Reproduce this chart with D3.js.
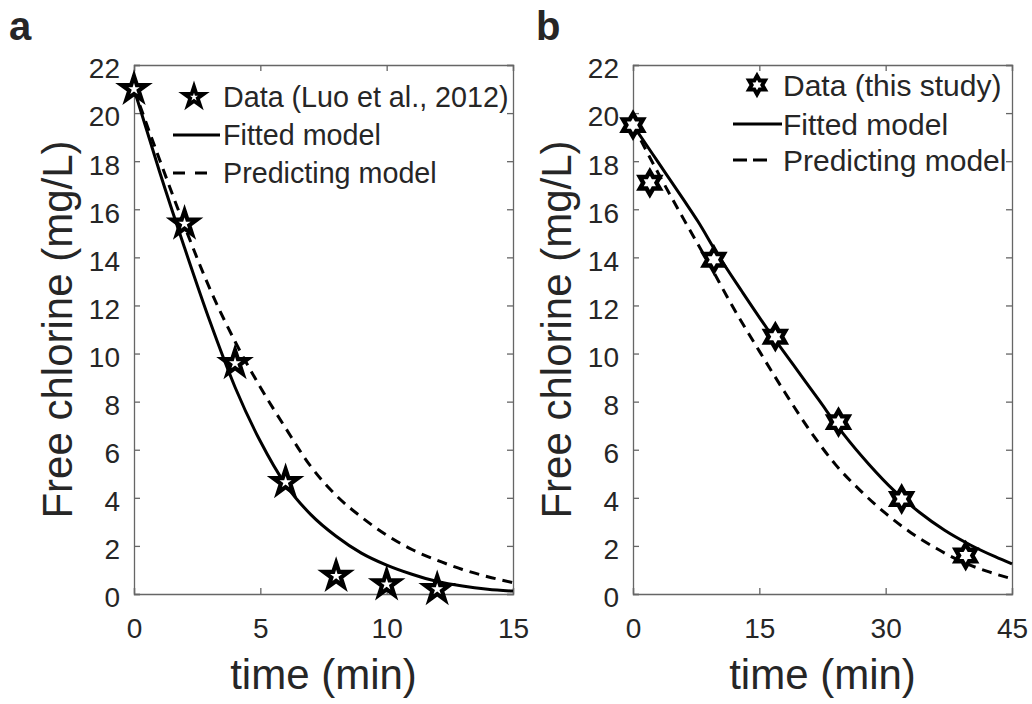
<!DOCTYPE html>
<html lang="en">
<head>
<meta charset="utf-8">
<script src="https://cdnjs.cloudflare.com/ajax/libs/d3/7.8.5/d3.min.js"></script>
<style>
    body { margin: 0; background: #fff; }
    svg text { font-family: 'Liberation Sans', Arial, sans-serif; fill: #262626; }
</style>
</head>
<body>
<svg id="chart" width="1032" height="704"></svg>
<script>
    // panel a: Luo et al. 2012
    const timeA = [0, 2, 4, 6, 8, 10, 12]
    const chlorineA = [21.0, 15.4, 9.6, 4.65, 0.75, 0.4, 0.2]
    const curveTimeA = [0, 1, 2, 3, 4, 5, 6, 7, 8, 9, 10, 11, 12, 13, 14, 15]
    const fittedA = [21.0, 17.6, 14.4, 11.35, 8.6, 6.35, 4.55, 3.3, 2.4, 1.7, 1.2, 0.82, 0.52, 0.33, 0.2, 0.12]
    const predictedA = [21.0, 18.1, 15.3, 12.7, 10.5, 8.6, 6.9, 5.3, 4.1, 3.2, 2.45, 1.85, 1.4, 1.02, 0.72, 0.47]

    // panel b: this study
    const timeB = [0, 2, 9.6, 16.9, 24.4, 31.9, 39.5]
    const chlorineB = [19.5, 17.1, 13.9, 10.7, 7.15, 3.95, 1.6]
    const fitTimeB = [0, 3, 6, 7.7, 10, 13, 16, 19, 22, 25, 28, 31, 34, 37, 40, 43, 45]
    const fittedB = [19.5, 17.95, 16.4, 15.5, 14.15, 12.55, 11.0, 9.55, 8.1, 6.65, 5.4, 4.3, 3.4, 2.65, 2.05, 1.55, 1.25]
    const predTimeB = [0, 3, 6, 9, 12, 15, 18, 21, 24, 27, 30, 33, 36, 39, 42, 45]
    const predictedB = [19.5, 17.5, 15.6, 13.75, 11.85, 10.1, 8.4, 6.8, 5.4, 4.3, 3.35, 2.55, 1.9, 1.35, 0.95, 0.63]

    const yTicks = [0, 2, 4, 6, 8, 10, 12, 14, 16, 18, 20, 22]
    const xTicksA = [0, 5, 10, 15]
    const xTicksB = [0, 15, 30, 45]

    const plotTop = 65, plotBottom = 594

    // MATLAB-like marker shapes, size = outer radius
    const pentagram = {
        draw(ctx, r) {
            const ri = r * 0.382
            for (let i = 0; i < 10; i++) {
                const a = -Math.PI / 2 + i * Math.PI / 5
                const rr = i % 2 ? ri : r
                i ? ctx.lineTo(rr * Math.cos(a), rr * Math.sin(a)) : ctx.moveTo(rr * Math.cos(a), rr * Math.sin(a))
            }
            ctx.closePath()
        }
    }
    const hexagram = {
        draw(ctx, r) {
            const ri = r / Math.sqrt(3)
            for (let i = 0; i < 12; i++) {
                const a = -Math.PI / 2 + i * Math.PI / 6
                const rr = i % 2 ? ri : r
                i ? ctx.lineTo(rr * Math.cos(a), rr * Math.sin(a)) : ctx.moveTo(rr * Math.cos(a), rr * Math.sin(a))
            }
            ctx.closePath()
        }
    }

    const svg = d3.select('#chart')

    function drawPanel(o) {
        const x = d3.scaleLinear().domain(o.xDomain).range([o.left, o.right])
        const y = d3.scaleLinear().domain([0, 22]).range([plotBottom, plotTop])
        const g = svg.append('g')

        // box with inward ticks on all sides
        const axes = [
            [d3.axisBottom(x).tickValues(o.xTicks).tickSize(-6).tickPadding(24), 'translate(0,' + plotBottom + ')'],
            [d3.axisTop(x).tickValues(o.xTicks).tickSize(-6).tickFormat(''), 'translate(0,' + plotTop + ')'],
            [d3.axisLeft(y).tickValues(yTicks).tickSize(-6).tickPadding(14), 'translate(' + o.left + ',0)'],
            [d3.axisRight(y).tickValues(yTicks).tickSize(-6).tickFormat(''), 'translate(' + o.right + ',0)']
        ]
        axes.forEach(([ax, tr], i) => {
            const a = g.append('g').attr('transform', tr).call(ax)
            a.select('.domain').attr('stroke', '#666').attr('stroke-width', 1.3)
            a.selectAll('.tick line').attr('stroke', '#666').attr('stroke-width', 1.3)
            a.selectAll('.tick text').attr('font-size', 28).attr('fill', '#262626')
            if (i == 2) a.selectAll('.tick text').attr('dy', '0.46em')
        })

        const line = d3.line().x(d => x(d[0])).y(d => y(d[1])).curve(d3.curveMonotoneX)
        g.append('path')
            .datum(d3.zip(o.fitT, o.fit))
            .attr('d', line)
            .attr('fill', 'none').attr('stroke', '#000').attr('stroke-width', 3)
        g.append('path')
            .datum(d3.zip(o.predT, o.pred))
            .attr('d', line)
            .attr('fill', 'none').attr('stroke', '#000').attr('stroke-width', 3)
            .attr('stroke-dasharray', '10,7')

        const sym = d3.symbol().type(o.marker).size(o.markerR)
        g.selectAll('.pt')
            .data(d3.zip(o.t, o.c))
            .enter()
            .append('path')
            .attr('transform', d => 'translate(' + x(d[0]) + ',' + y(d[1]) + ')')
            .attr('d', sym)
            .attr('fill', '#fff').attr('stroke', '#000')
            .attr('stroke-width', o.markerW).attr('stroke-linejoin', 'miter')

        // legend
        const lg = g.append('g')
        lg.append('path')
            .attr('transform', 'translate(' + o.lgMarkerX + ',' + o.lgRows[0] + ')')
            .attr('d', d3.symbol().type(o.marker).size(o.markerR * 0.8))
            .attr('fill', '#fff').attr('stroke', '#000').attr('stroke-width', o.markerW * 0.9)
        lg.append('line')
            .attr('x1', o.lgLine[0]).attr('x2', o.lgLine[1])
            .attr('y1', o.lgRows[1]).attr('y2', o.lgRows[1])
            .attr('stroke', '#000').attr('stroke-width', 3)
        lg.append('line')
            .attr('x1', o.lgLine[0]).attr('x2', o.lgDash[0])
            .attr('y1', o.lgRows[2]).attr('y2', o.lgRows[2])
            .attr('stroke', '#000').attr('stroke-width', 3).attr('stroke-dasharray', o.lgDash[1])
        o.lgText.forEach((s, i) => {
            lg.append('text')
                .attr('x', o.lgTextX)
                .attr('y', o.lgRows[i] + o.lgFont * 0.36)
                .attr('font-size', o.lgFont)
                .text(s)
        })

        // axis labels
        g.append('text')
            .attr('x', (o.left + o.right) / 2).attr('y', 689)
            .attr('text-anchor', 'middle').attr('font-size', 42)
            .text('time (min)')
        g.append('text')
            .attr('transform', 'translate(' + (o.left - 62) + ',' + (plotTop + plotBottom) / 2 + ') rotate(-90)')
            .attr('text-anchor', 'middle').attr('font-size', 42)
            .text('Free chlorine (mg/L)')
        g.append('text')
            .attr('x', o.letterX).attr('y', 40)
            .attr('font-size', 40).attr('font-weight', 'bold').attr('fill', '#000')
            .text(o.panel)
    }

    drawPanel({
        panel: 'a', letterX: 9, left: 134, right: 513, xDomain: [0, 15], xTicks: xTicksA,
        t: timeA, c: chlorineA, fitT: curveTimeA, fit: fittedA, predT: curveTimeA, pred: predictedA,
        marker: pentagram, markerR: 13, markerW: 4.2,
        lgMarkerX: 194, lgTextX: 223, lgLine: [173, 220], lgDash: [211, '12,10'], lgRows: [97, 135, 173],
        lgFont: 28.7,
        lgText: ['Data (Luo et al., 2012)', 'Fitted model', 'Predicting model']
    })
    drawPanel({
        panel: 'b', letterX: 536, left: 633, right: 1012, xDomain: [0, 45], xTicks: xTicksB,
        t: timeB, c: chlorineB, fitT: fitTimeB, fit: fittedB, predT: predTimeB, pred: predictedB,
        marker: hexagram, markerR: 11.5, markerW: 4.4,
        lgMarkerX: 757, lgTextX: 783, lgLine: [733, 782], lgDash: [769, '14,6'], lgRows: [85, 124, 160],
        lgFont: 30,
        lgText: ['Data (this study)', 'Fitted model', 'Predicting model']
    })
</script>
</body>
</html>
